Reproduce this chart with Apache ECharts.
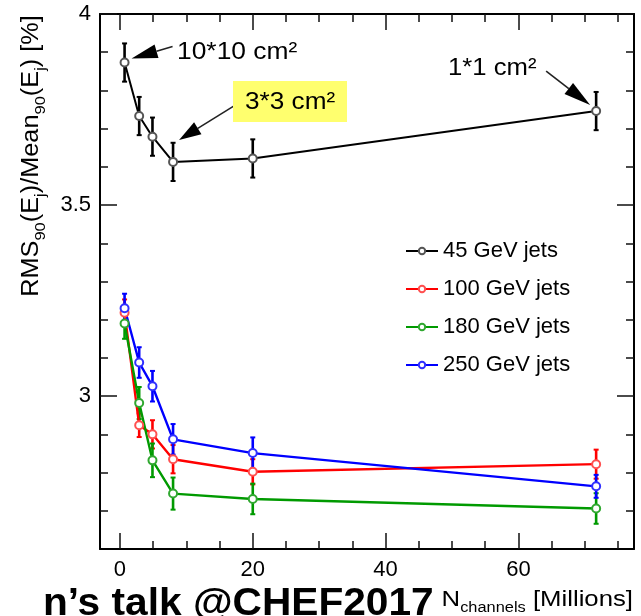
<!DOCTYPE html>
<html>
<head>
<meta charset="utf-8">
<script src="https://cdn.jsdelivr.net/npm/echarts@6/dist/echarts.min.js"></script>
<style>
  html, body { margin: 0; padding: 0; background: #fff; }
  #chart { width: 641px; height: 616px; }
</style>
</head>
<body>
<div id="chart"></div>
<script>
// Number of readout channels (millions) for each cell size
const nChannels = [0.7, 2.9, 4.9, 8, 20, 71.7];

// RMS90/Mean90 of the jet energy [%] and its uncertainty, per jet energy
const rms45  = [3.873, 3.733, 3.679, 3.613, 3.622, 3.746];
const err45  = [0.05, 0.05, 0.05, 0.05, 0.05, 0.05];
const rms100 = [3.218, 2.924, 2.900, 2.835, 2.802, 2.822];
const err100 = [0.035, 0.031, 0.037, 0.037, 0.033, 0.038];
const rms180 = [3.190, 2.982, 2.832, 2.745, 2.731, 2.706];
const err180 = [0.040, 0.042, 0.044, 0.042, 0.040, 0.040];
const rms250 = [3.230, 3.088, 3.026, 2.887, 2.851, 2.764];
const err250 = [0.038, 0.040, 0.040, 0.040, 0.041, 0.030];

const seriesNames = ['45 GeV jets', '100 GeV jets', '180 GeV jets', '250 GeV jets'];

// Axis ticks and labels
const xMajorTicks = [0, 20, 40, 60];
const xMinorTicks = [5, 10, 15, 25, 30, 35, 45, 50, 55, 65, 70, 75];
const yMajorTicks = [3, 3.5, 4];
const yMinorTicks = [2.7, 2.8, 2.9, 3.1, 3.2, 3.3, 3.4, 3.6, 3.7, 3.8, 3.9];

// Cell-size annotations: which point of the 45 GeV curve each arrow points at
const cellLabels = ['10*10 cm²', '3*3 cm²', '1*1 cm²'];
const cellPointIndex = [0, 3, 5];

const FONT = '"Liberation Sans", Arial, Helvetica, sans-serif';
const lineColors = ['#000000', '#ff0000', '#009a00', '#0000ff'];
const markerColors = ['#555555', '#ff5050', '#30a830', '#3030ff'];
const values = [rms45, rms100, rms180, rms250];
const errors = [err45, err100, err180, err250];

const X_MIN = -3, X_MAX = 77.4, Y_MIN = 2.6, Y_MAX = 4;

function xAxisDef(position, ticks, len, withLine, withLabels) {
  return {
    type: 'value', position: position, min: X_MIN, max: X_MAX,
    axisLine: { show: withLine, onZero: false, lineStyle: { color: '#000', width: 2 } },
    axisTick: { show: true, inside: true, length: len, customValues: ticks,
                lineStyle: { color: '#111', width: 1.5 } },
    axisLabel: withLabels
      ? { show: true, customValues: ticks, fontSize: 22, color: '#000', fontFamily: FONT, margin: 10 }
      : { show: false },
    splitLine: { show: false }
  };
}
function yAxisDef(position, ticks, len, withLine, withLabels) {
  return {
    type: 'value', position: position, min: Y_MIN, max: Y_MAX,
    axisLine: { show: withLine, onZero: false, lineStyle: { color: '#000', width: 2 } },
    axisTick: { show: true, inside: true, length: len, customValues: ticks,
                lineStyle: { color: '#111', width: 1.5 } },
    axisLabel: withLabels
      ? { show: true, customValues: ticks, fontSize: 22, color: '#000', fontFamily: FONT, margin: 9,
          formatter: v => String(v) }
      : { show: false },
    splitLine: { show: false }
  };
}

const lineSeries = seriesNames.map((name, k) => ({
  name: name,
  type: 'line',
  xAxisIndex: 0, yAxisIndex: 0,
  z: 3,
  data: nChannels.map((x, i) => [x, values[k][i]]),
  symbol: 'emptyCircle',
  symbolSize: 8,
  itemStyle: { color: markerColors[k], borderWidth: 1.3 },
  lineStyle: { color: lineColors[k], width: k === 0 ? 2 : 2.4 },
  emphasis: { disabled: true }
}));

const errorSeries = seriesNames.map((name, k) => ({
  type: 'custom',
  xAxisIndex: 0, yAxisIndex: 0,
  z: 2,
  silent: true,
  data: nChannels.map((x, i) => [x, values[k][i], errors[k][i]]),
  encode: { x: 0, y: 1 },
  renderItem: function (params, api) {
    const x = api.value(0), y = api.value(1), e = api.value(2);
    const top = api.coord([x, y + e]);
    const bot = api.coord([x, y - e]);
    const c = lineColors[k];
    const cap = 2.5;
    return {
      type: 'group',
      children: [
        { type: 'line', shape: { x1: top[0], y1: top[1], x2: bot[0], y2: bot[1] },
          style: { stroke: c, lineWidth: 2.6 } },
        { type: 'line', shape: { x1: top[0] - cap, y1: top[1], x2: top[0] + cap, y2: top[1] },
          style: { stroke: c, lineWidth: 2 } },
        { type: 'line', shape: { x1: bot[0] - cap, y1: bot[1], x2: bot[0] + cap, y2: bot[1] },
          style: { stroke: c, lineWidth: 2 } }
      ]
    };
  }
}));

const chart = echarts.init(document.getElementById('chart'), null, { renderer: 'canvas' });

chart.setOption({
  backgroundColor: '#ffffff',
  animation: false,
  grid: { left: 100, right: 7, top: 14, bottom: 67, containLabel: false },
  xAxis: [
    xAxisDef('bottom', xMajorTicks, 16, true, true),
    xAxisDef('bottom', xMinorTicks, 8, false, false),
    xAxisDef('top', xMajorTicks, 16, true, false),
    xAxisDef('top', xMinorTicks, 8, false, false)
  ],
  yAxis: [
    yAxisDef('left', yMajorTicks, 17, true, true),
    yAxisDef('left', yMinorTicks, 8, false, false),
    yAxisDef('right', yMajorTicks, 17, true, false),
    yAxisDef('right', yMinorTicks, 8, false, false)
  ],
  legend: {
    data: seriesNames,
    orient: 'vertical',
    left: 400, top: 235,
    itemWidth: 32, itemHeight: 8, itemGap: 16,
    selectedMode: false,
    textStyle: { fontSize: 22, color: '#000', fontFamily: FONT, lineHeight: 22 }
  },
  series: lineSeries.concat(errorSeries)
});

// Arrow from a tail point to a tip, with a filled triangular head
function arrow(tip, tail, headLen, halfW) {
  const dx = tip[0] - tail[0], dy = tip[1] - tail[1];
  const d = Math.hypot(dx, dy);
  const ux = dx / d, uy = dy / d;
  const bx = tip[0] - ux * headLen, by = tip[1] - uy * headLen;
  const nx = -uy, ny = ux;
  return [
    { type: 'line', silent: true,
      shape: { x1: tail[0], y1: tail[1], x2: bx, y2: by },
      style: { stroke: '#222', lineWidth: 1.6 } },
    { type: 'polygon', silent: true,
      shape: { points: [tip, [bx + nx * halfW, by + ny * halfW], [bx - nx * halfW, by - ny * halfW]] },
      style: { fill: '#000' } }
  ];
}

function px(i) {
  return chart.convertToPixel({ seriesIndex: 0 }, [nChannels[i], rms45[i]]);
}

// Plain text label, optionally widened horizontally
function textEl(x, y, text, font, align, sx) {
  return {
    type: 'text', x: x, y: y, scaleX: sx || 1, silent: true,
    style: {
      text: text, fill: '#000', font: font,
      textAlign: align, textVerticalAlign: 'middle',
      align: align, verticalAlign: 'middle'
    }
  };
}

// Tip / tail offsets (pixels) relative to the annotated point
const arrowGeom = [
  { tip: [7, -4],  tail: [48, -16], len: 26, w: 7 },
  { tip: [6, -22], tail: [61, -56], len: 22, w: 7 },
  { tip: [-6, -6], tail: [-50, -40], len: 27, w: 7 }
];

const graphics = [];
cellPointIndex.forEach((idx, a) => {
  const p = px(idx);
  const g = arrowGeom[a];
  arrow([p[0] + g.tip[0], p[1] + g.tip[1]], [p[0] + g.tail[0], p[1] + g.tail[1]], g.len, g.w)
    .forEach(e => graphics.push(e));
});

// Highlight box behind the 3*3 label
graphics.push({ type: 'rect', silent: true, z: 0,
  shape: { x: 233, y: 81, width: 114, height: 41 }, style: { fill: '#ffff6e' } });

const annFont = '24px ' + FONT;
graphics.push(textEl(177, 52, cellLabels[0], annFont, 'left', 1.1));
graphics.push(textEl(245, 102, cellLabels[1], annFont, 'left', 1.09));
graphics.push(textEl(448, 68, cellLabels[2], annFont, 'left', 1.07));

// Y axis title with subscripts
graphics.push({
  type: 'text', x: 32, y: 156, rotation: Math.PI / 2, scaleX: 1.1, silent: true,
  style: {
    text: '{m|RMS}{s|90}{m|(E}{s|j}{m|)/Mean}{s|90}{m|(E}{s|j}{m|) [%]}',
    fill: '#000',
    textAlign: 'center', textVerticalAlign: 'middle',
    align: 'center', verticalAlign: 'middle',
    rich: {
      m: { fontSize: 23, fontFamily: FONT, lineHeight: 32, fill: '#000', verticalAlign: 'middle' },
      s: { fontSize: 15, fontFamily: FONT, lineHeight: 14, fill: '#000', verticalAlign: 'bottom' }
    }
  }
});

// X axis title with subscript
graphics.push({
  type: 'text', x: 633, y: 600, scaleX: 1.17, silent: true,
  style: {
    text: '{m|N}{s|channels}{m| [Millions]}',
    fill: '#000',
    textAlign: 'right', textVerticalAlign: 'middle',
    align: 'right', verticalAlign: 'middle',
    rich: {
      m: { fontSize: 22, fontFamily: FONT, lineHeight: 30, fill: '#000', verticalAlign: 'middle' },
      s: { fontSize: 14, fontFamily: FONT, lineHeight: 13, fill: '#000', verticalAlign: 'bottom' }
    }
  }
});

// Talk reference line along the bottom edge
graphics.push(textEl(43, 605, 'n’s talk @CHEF2017', 'bold 38px ' + FONT, 'left', 1.07));

chart.setOption({ graphic: { elements: graphics } });
</script>
</body>
</html>
